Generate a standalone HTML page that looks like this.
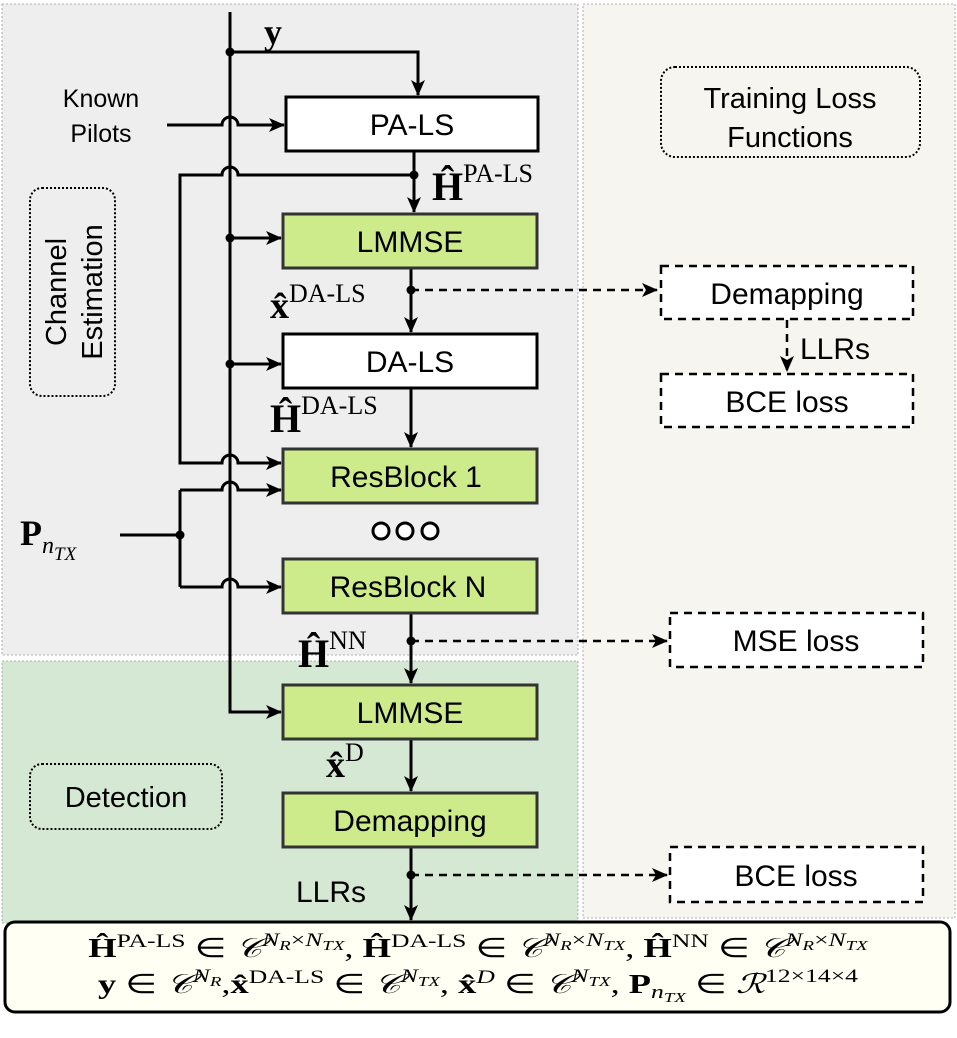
<!DOCTYPE html>
<html><head><meta charset="utf-8"><style>
html,body{margin:0;padding:0;background:#fff;}
svg{display:block;}
text{font-family:"Liberation Sans",sans-serif;fill:#000;}
.m{font-family:"Liberation Serif",serif;}
</style></head><body>
<svg width="957" height="1038" viewBox="0 0 957 1038" xmlns="http://www.w3.org/2000/svg">
<defs>
<marker id="b" markerWidth="16" markerHeight="14" refX="15" refY="7" orient="auto" markerUnits="userSpaceOnUse">
<path d="M0,0 L16,7 L0,14 L4,7 Z" fill="#000"/></marker>
</defs>
<rect x="2" y="4" width="576" height="651" fill="#eeeeee" stroke="#999" stroke-width="0.8" stroke-dasharray="2,2"/>
<rect x="583" y="4" width="372" height="914" fill="#f7f5ef" stroke="#999" stroke-width="0.8" stroke-dasharray="2,2"/>
<rect x="2" y="661" width="576" height="262" fill="#d5e8d4" stroke="#999" stroke-width="0.8" stroke-dasharray="2,2"/>

<rect x="30" y="188" width="85" height="208" rx="12" fill="none" stroke="#000" stroke-width="2" stroke-dasharray="2,2"/>
<text transform="translate(72,292) rotate(-90)" font-size="29" text-anchor="middle"><tspan x="0" y="-6">Channel</tspan><tspan x="0" y="30">Estimation</tspan></text>
<rect x="30" y="764" width="192" height="65" rx="12" fill="none" stroke="#000" stroke-width="2" stroke-dasharray="2,2"/>
<text x="126" y="807" font-size="29" text-anchor="middle">Detection</text>
<rect x="661" y="67" width="259" height="90" rx="14" fill="none" stroke="#000" stroke-width="2" stroke-dasharray="2,2"/>
<text x="790" y="108" font-size="29" text-anchor="middle">Training Loss</text>
<text x="790" y="147" font-size="29" text-anchor="middle">Functions</text>

<g fill="none" stroke="#000" stroke-width="3">
<path d="M230,12 V712 H281" marker-end="url(#b)"/>
<path d="M230,52 H418 V95" marker-end="url(#b)"/>
<path d="M167,125 H222 A8,8 0 0 1 238,125 H284" marker-end="url(#b)"/>
<path d="M414,152 V212" marker-end="url(#b)"/>
<path d="M414,175 H238 A8,8 0 0 0 222,175 H180 V463 H222 A8,8 0 0 1 238,463 H281" marker-end="url(#b)"/>
<path d="M230,238 H281" marker-end="url(#b)"/>
<path d="M411,269 V332" marker-end="url(#b)"/>
<path d="M230,364 H281" marker-end="url(#b)"/>
<path d="M411,389 V447" marker-end="url(#b)"/>
<path d="M120,535 H180"/>
<path d="M180,490 V587"/>
<path d="M180,490 H222 A8,8 0 0 1 238,490 H281" marker-end="url(#b)"/>
<path d="M180,587 H222 A8,8 0 0 1 238,587 H281" marker-end="url(#b)"/>
<path d="M411,613 V683" marker-end="url(#b)"/>
<path d="M411,739 V791" marker-end="url(#b)"/>
<path d="M411,847 V920" marker-end="url(#b)"/>
</g>
<g fill="none" stroke="#000" stroke-width="2.5" stroke-dasharray="8,6">
<path d="M411,290 H657" marker-end="url(#b)"/>
<path d="M787,320 V371" marker-end="url(#b)"/>
<path d="M411,641 H667" marker-end="url(#b)"/>
<path d="M411,875 H667" marker-end="url(#b)"/>
</g>
<g fill="#000">
<circle cx="230" cy="52" r="4.5"/><circle cx="414" cy="175" r="4.5"/>
<circle cx="230" cy="238" r="4.5"/><circle cx="230" cy="364" r="4.5"/>
<circle cx="411" cy="290" r="4.5"/><circle cx="180" cy="535" r="4.5"/>
<circle cx="411" cy="641" r="4.5"/><circle cx="411" cy="875" r="4.5"/>
</g>

<rect x="286" y="97" width="252" height="54" fill="#fff" stroke="#000" stroke-width="3"/>
<text x="412" y="135" font-size="30" text-anchor="middle">PA-LS</text>
<g stroke="#333" stroke-width="3">
<rect x="283" y="214" width="254" height="54" fill="#cdeb8b"/>
<rect x="283" y="334" width="254" height="54" fill="#fff" stroke="#000"/>
<rect x="283" y="449" width="254" height="54" fill="#cdeb8b"/>
<rect x="283" y="559" width="254" height="54" fill="#cdeb8b"/>
<rect x="283" y="685" width="254" height="54" fill="#cdeb8b"/>
<rect x="283" y="793" width="254" height="54" fill="#cdeb8b"/>
</g>
<g font-size="30" text-anchor="middle">
<text x="410" y="252">LMMSE</text>
<text x="410" y="372">DA-LS</text>
<text x="406" y="487">ResBlock 1</text>
<text x="408" y="597">ResBlock N</text>
<text x="410" y="723">LMMSE</text>
<text x="410" y="831">Demapping</text>
</g>
<g fill="#fff" stroke="#000" stroke-width="3">
<circle cx="381" cy="531" r="8"/><circle cx="405" cy="531" r="8"/><circle cx="430" cy="531" r="8"/>
</g>

<g fill="#fff" stroke="#000" stroke-width="2.5" stroke-dasharray="8,6">
<rect x="661" y="266" width="252" height="53"/>
<rect x="661" y="374" width="252" height="53"/>
<rect x="670" y="613" width="253" height="54"/>
<rect x="670" y="847" width="253" height="55"/>
</g>
<g font-size="30" text-anchor="middle">
<text x="787" y="304">Demapping</text>
<text x="787" y="412">BCE loss</text>
<text x="796" y="651">MSE loss</text>
<text x="796" y="886">BCE loss</text>
</g>
<text x="800" y="359" font-size="30">LLRs</text>

<text x="101" y="107" font-size="25" text-anchor="middle">Known</text>
<text x="101" y="142" font-size="25" text-anchor="middle">Pilots</text>
<text x="296" y="902" font-size="30">LLRs</text>
<text x="264" y="44" font-size="36" font-weight="bold" class="m">y</text>
<text x="432" y="200" class="m"><tspan font-size="40" font-weight="bold">Ĥ</tspan><tspan font-size="26" dy="-18">PA-LS</tspan></text>
<text x="270" y="318" class="m"><tspan font-size="38" font-weight="bold">x̂</tspan><tspan font-size="26" dy="-16">DA-LS</tspan></text>
<text x="270" y="432" class="m"><tspan font-size="40" font-weight="bold">Ĥ</tspan><tspan font-size="26" dy="-18">DA-LS</tspan></text>
<text x="298" y="667" class="m"><tspan font-size="40" font-weight="bold">Ĥ</tspan><tspan font-size="26" dy="-18">NN</tspan></text>
<text x="326" y="777" class="m"><tspan font-size="38" font-weight="bold">x̂</tspan><tspan font-size="26" dy="-16">D</tspan></text>
<text x="20" y="545" class="m"><tspan font-size="36" font-weight="bold">P</tspan><tspan font-size="24" font-style="italic" dy="8">n</tspan><tspan font-size="19" font-style="italic" dy="7">TX</tspan></text>

<rect x="5" y="922" width="945" height="90" rx="10" fill="#fffff4" stroke="#000" stroke-width="3"/>
<g transform="translate(478,0) scale(1.35,1) translate(-478,0)">
<text x="478" y="957" font-size="27" text-anchor="middle" class="m"><tspan font-weight="bold">Ĥ</tspan><tspan font-size="19" dy="-10">PA-LS</tspan><tspan dy="10"> ∈ </tspan><tspan font-style="italic">𝒞</tspan><tspan font-size="19" font-style="italic" dy="-11">N</tspan><tspan font-size="14" font-style="italic" dy="4">R</tspan><tspan font-size="19" dy="-4">×</tspan><tspan font-size="19" font-style="italic">N</tspan><tspan font-size="14" font-style="italic" dy="4">TX</tspan><tspan dy="7">, </tspan><tspan font-weight="bold">Ĥ</tspan><tspan font-size="19" dy="-10">DA-LS</tspan><tspan dy="10"> ∈ </tspan><tspan font-style="italic">𝒞</tspan><tspan font-size="19" font-style="italic" dy="-11">N</tspan><tspan font-size="14" font-style="italic" dy="4">R</tspan><tspan font-size="19" dy="-4">×</tspan><tspan font-size="19" font-style="italic">N</tspan><tspan font-size="14" font-style="italic" dy="4">TX</tspan><tspan dy="7">, </tspan><tspan font-weight="bold">Ĥ</tspan><tspan font-size="19" dy="-10">NN</tspan><tspan dy="10"> ∈ </tspan><tspan font-style="italic">𝒞</tspan><tspan font-size="19" font-style="italic" dy="-11">N</tspan><tspan font-size="14" font-style="italic" dy="4">R</tspan><tspan font-size="19" dy="-4">×</tspan><tspan font-size="19" font-style="italic">N</tspan><tspan font-size="14" font-style="italic" dy="4">TX</tspan></text>
<text x="478" y="993" font-size="27" text-anchor="middle" class="m"><tspan font-weight="bold">y</tspan><tspan> ∈ </tspan><tspan font-style="italic">𝒞</tspan><tspan font-size="19" font-style="italic" dy="-11">N</tspan><tspan font-size="14" font-style="italic" dy="4">R</tspan><tspan dy="7">,</tspan><tspan font-weight="bold">x̂</tspan><tspan font-size="19" dy="-10">DA-LS</tspan><tspan dy="10"> ∈ </tspan><tspan font-style="italic">𝒞</tspan><tspan font-size="19" font-style="italic" dy="-11">N</tspan><tspan font-size="14" font-style="italic" dy="4">TX</tspan><tspan dy="7">, </tspan><tspan font-weight="bold">x̂</tspan><tspan font-size="19" font-style="italic" dy="-10">D</tspan><tspan dy="10"> ∈ </tspan><tspan font-style="italic">𝒞</tspan><tspan font-size="19" font-style="italic" dy="-11">N</tspan><tspan font-size="14" font-style="italic" dy="4">TX</tspan><tspan dy="7">, </tspan><tspan font-weight="bold">P</tspan><tspan font-size="19" font-style="italic" dy="5">n</tspan><tspan font-size="14" font-style="italic" dy="4">TX</tspan><tspan dy="-9"> ∈ </tspan><tspan font-style="italic">ℛ</tspan><tspan font-size="19" dy="-11">12×14×4</tspan></text>
</g>
</svg>
</body></html>
